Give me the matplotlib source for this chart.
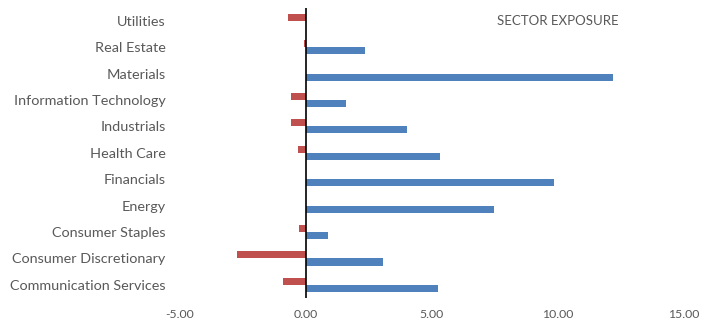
import numpy as np
import matplotlib.pyplot as plt

sectors = ['Communication Services', 'Consumer Discretionary', 'Consumer Staples',
           'Energy', 'Financials', 'Health Care', 'Industrials',
           'Information Technology', 'Materials', 'Real Estate', 'Utilities']
long_vals = [5.22, 3.07, 0.89, 7.45, 9.84, 5.3, 4.02, 1.59, 12.2, 2.34, 0.0]
short_vals = [-0.9, -2.73, -0.29, 0.0, 0.0, -0.32, -0.61, -0.58, 0.0, -0.07, -0.72]
xticks = [-5, 0, 5, 10, 15]

plt.rcParams['font.family'] = ['Lato', 'DejaVu Sans']
txt = '#595959'

fig = plt.figure(figsize=(7.02, 3.23), dpi=100)
ax = fig.add_axes([180 / 702, 1 - 298 / 323, 504 / 702, 290.5 / 323])

y = np.arange(len(sectors))
h = 0.27
ax.barh(y - h / 2, long_vals, height=h, color='#4F81BD')
ax.barh(y + h / 2, short_vals, height=h, color='#C0504D')

ax.set_ylim(-0.5, len(sectors) - 0.5)
ax.set_xlim(-5, 15)
ax.set_xticks(xticks)
ax.set_xticklabels(['%.2f' % v for v in xticks], color=txt, fontsize=8.8)
ax.set_yticks(y)
ax.set_yticklabels(sectors, color=txt, fontsize=10.4)
ax.tick_params(axis='both', length=0)
ax.tick_params(axis='x', pad=8)
ax.tick_params(axis='y', pad=10.5)

for s in ['top', 'right', 'bottom', 'left']:
    ax.spines[s].set_visible(False)
ax.axvline(0, color='black', lw=1.2)

fig.text(497 / 702, 1 - 21 / 323, 'SECTOR EXPOSURE', color=txt, fontsize=9.5,
         va='center', ha='left')

fig.savefig('out.png', dpi=100)
